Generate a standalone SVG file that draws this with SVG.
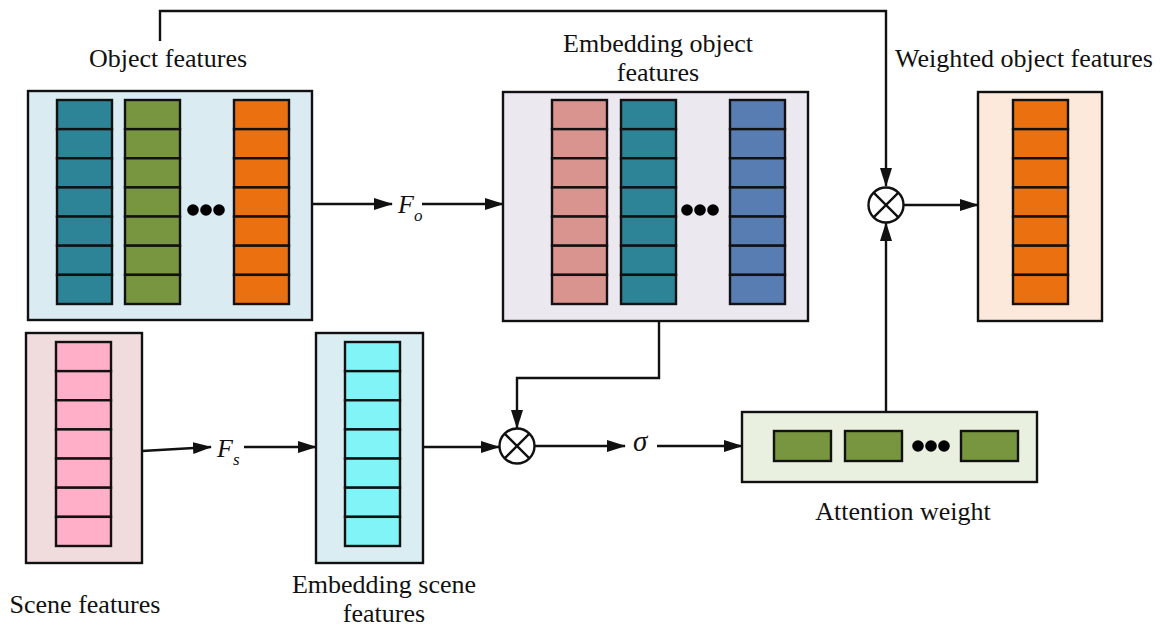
<svg xmlns="http://www.w3.org/2000/svg" xmlns:xlink="http://www.w3.org/1999/xlink" width="1160" height="627" viewBox="0 0 1160 627">
  <style>
    .box { stroke: #111; stroke-width: 2.4; }
    .cell { stroke: #111; stroke-width: 2.4; }
    .wire { fill: none; stroke: #111; stroke-width: 2.4; }
    .lbl { font-family: "Liberation Serif", "Times New Roman", serif; font-size: 26px; fill: #111; text-anchor: middle; }
    .sym { font-family: "Liberation Serif", "Times New Roman", serif; font-style: italic; fill: #111; }
    .dot { fill: #000; }
  </style>
  <defs>
    <marker id="arrow" markerUnits="userSpaceOnUse" markerWidth="19" markerHeight="12" refX="18" refY="6" orient="auto">
      <path d="M0,0 L19,6 L0,12 z" fill="#111"/>
    </marker>
    <!-- one feature vector: 7 stacked cells, fill comes from the <use> -->
    <g id="col7">
      <rect class="cell" x="0" y="0" width="55" height="29.14"/>
      <rect class="cell" x="0" y="29.14" width="55" height="29.14"/>
      <rect class="cell" x="0" y="58.28" width="55" height="29.14"/>
      <rect class="cell" x="0" y="87.42" width="55" height="29.14"/>
      <rect class="cell" x="0" y="116.56" width="55" height="29.14"/>
      <rect class="cell" x="0" y="145.7" width="55" height="29.14"/>
      <rect class="cell" x="0" y="174.84" width="55" height="29.16"/>
    </g>
    <g id="dots3">
      <circle class="dot" cx="0" cy="0" r="5.8"/>
      <circle class="dot" cx="13" cy="0" r="5.8"/>
      <circle class="dot" cx="26" cy="0" r="5.8"/>
    </g>
    <g id="mult">
      <circle cx="0" cy="0" r="17.5" fill="#fff" stroke="#111" stroke-width="2.4"/>
      <path d="M-12.4,-12.4 L12.4,12.4 M-12.4,12.4 L12.4,-12.4" stroke="#111" stroke-width="2.4"/>
    </g>
  </defs>

  <rect width="1160" height="627" fill="#fff"/>

  <!-- connectors -->
  <g id="connectors">
    <path class="wire" d="M160,41 V11 H886 V186" marker-end="url(#arrow)"/>
    <line class="wire" x1="312" y1="204" x2="392" y2="204" marker-end="url(#arrow)"/>
    <line class="wire" x1="422" y1="204" x2="503" y2="204" marker-end="url(#arrow)"/>
    <line class="wire" x1="904" y1="205" x2="978" y2="205" marker-end="url(#arrow)"/>
    <line class="wire" x1="886" y1="412" x2="886" y2="223" marker-end="url(#arrow)"/>
    <line class="wire" x1="142" y1="451" x2="211" y2="447" marker-end="url(#arrow)"/>
    <line class="wire" x1="244" y1="447" x2="316" y2="447" marker-end="url(#arrow)"/>
    <line class="wire" x1="423" y1="447" x2="499" y2="447" marker-end="url(#arrow)"/>
    <path class="wire" d="M659,321 V378 H517 V428" marker-end="url(#arrow)"/>
    <line class="wire" x1="535" y1="446" x2="625" y2="446" marker-end="url(#arrow)"/>
    <line class="wire" x1="657" y1="446" x2="742" y2="446" marker-end="url(#arrow)"/>
  </g>

  <!-- object features -->
  <g id="object-features">
    <text class="lbl" x="168" y="67">Object features</text>
    <rect class="box" x="28" y="91" width="284" height="229" fill="#DAECF2"/>
    <use xlink:href="#col7" x="57" y="100" fill="#2E8497"/>
    <use xlink:href="#col7" x="125" y="100" fill="#78963F"/>
    <use xlink:href="#dots3" x="193" y="210"/>
    <use xlink:href="#col7" x="234" y="100" fill="#EA7010"/>
  </g>

  <!-- F_o label -->
  <g id="fo-label">
    <text class="sym" x="398" y="213" font-size="26">F<tspan dy="8" font-size="17">o</tspan></text>
  </g>

  <!-- embedding object features -->
  <g id="embedding-object-features">
    <text class="lbl" x="658" y="52">Embedding object</text>
    <text class="lbl" x="658" y="81">features</text>
    <rect class="box" x="503" y="92" width="305" height="229" fill="#EBE8F0"/>
    <use xlink:href="#col7" x="552" y="100" fill="#D99490"/>
    <use xlink:href="#col7" x="621" y="100" fill="#2E8497"/>
    <use xlink:href="#dots3" x="687" y="210"/>
    <use xlink:href="#col7" x="730" y="100" fill="#587DB3"/>
  </g>

  <!-- weighting product -->
  <g id="mult-top">
    <use xlink:href="#mult" x="886" y="205"/>
  </g>

  <!-- weighted object features -->
  <g id="weighted-object-features">
    <text class="lbl" x="1024" y="67">Weighted object features</text>
    <rect class="box" x="978" y="92" width="124" height="229" fill="#FCE9DC"/>
    <use xlink:href="#col7" x="1013" y="100" fill="#EA7010"/>
  </g>

  <!-- scene features -->
  <g id="scene-features">
    <rect class="box" x="26" y="333" width="116" height="230" fill="#F0DCDC"/>
    <use xlink:href="#col7" x="56" y="342" fill="#FFB0C8"/>
    <text class="lbl" x="85" y="613">Scene features</text>
  </g>

  <!-- F_s label -->
  <g id="fs-label">
    <text class="sym" x="217" y="457" font-size="26">F<tspan dy="8" font-size="17">s</tspan></text>
  </g>

  <!-- embedding scene features -->
  <g id="embedding-scene-features">
    <rect class="box" x="316" y="333" width="107" height="230" fill="#DAEDF3"/>
    <use xlink:href="#col7" x="345" y="342" fill="#80F4F6"/>
    <text class="lbl" x="384" y="593">Embedding scene</text>
    <text class="lbl" x="384" y="622">features</text>
  </g>

  <!-- scene-object product -->
  <g id="mult-bottom">
    <use xlink:href="#mult" x="517" y="446"/>
  </g>

  <!-- sigmoid -->
  <g id="sigma-label">
    <text class="sym" x="633" y="451" font-size="29">σ</text>
  </g>

  <!-- attention weight -->
  <g id="attention-weight">
    <rect class="box" x="742" y="412" width="295" height="70" fill="#EAF0E0"/>
    <rect class="cell" x="774" y="431" width="57" height="30" fill="#78963F"/>
    <rect class="cell" x="845" y="431" width="57" height="30" fill="#78963F"/>
    <use xlink:href="#dots3" x="918" y="446"/>
    <rect class="cell" x="961" y="431" width="57" height="30" fill="#78963F"/>
    <text class="lbl" x="903" y="520">Attention weight</text>
  </g>
</svg>
